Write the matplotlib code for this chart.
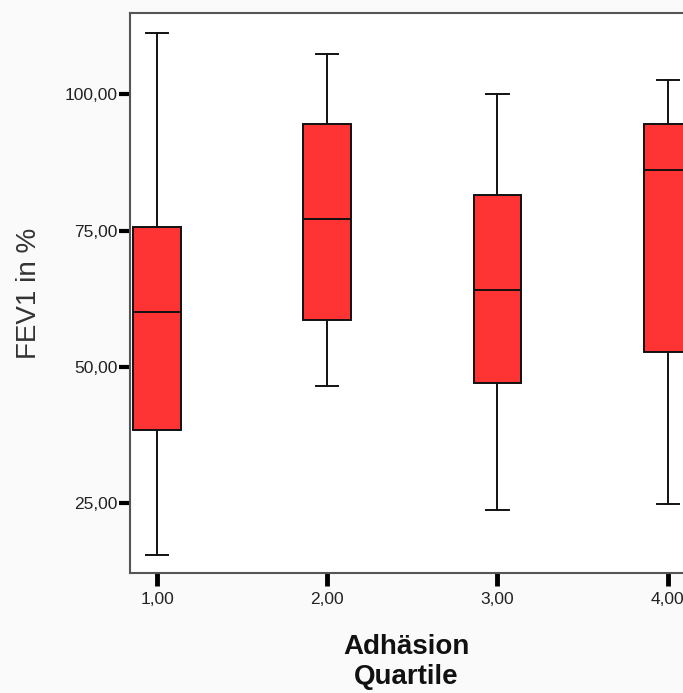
import matplotlib
matplotlib.use("Agg")
import matplotlib.pyplot as plt

# values (FEV1 in % per adhesion quartile)
groups = [1, 2, 3, 4]
tick_labels = ["1,00", "2,00", "3,00", "4,00"]
whisker_low = [15.6, 46.5, 23.8, 24.9]
q1 = [38.5, 58.6, 47.1, 52.8]
median = [60.0, 77.1, 64.1, 86.1]
q3 = [75.7, 94.5, 81.5, 94.6]
whisker_high = [111.1, 107.4, 100.0, 102.6]
y_ticks = [25, 50, 75, 100]
y_tick_labels = ["25,00", "50,00", "75,00", "100,00"]

plt.rcParams['font.family'] = ['Liberation Sans', 'DejaVu Sans']

fig = plt.figure(figsize=(6.83, 6.93), dpi=100, facecolor='#fafafa')
ax = fig.add_axes([0.190, 0.1736, 0.810, 0.8072])
ax.set_facecolor('white')

stats = []
for i in range(len(groups)):
    stats.append({
        'whislo': whisker_low[i], 'q1': q1[i], 'med': median[i],
        'q3': q3[i], 'whishi': whisker_high[i], 'fliers': [],
    })

ax.bxp(stats, positions=groups, widths=0.28, patch_artist=True,
       showfliers=False,
       boxprops=dict(facecolor='#fe3333', edgecolor='#111111', linewidth=1.4),
       medianprops=dict(color='#111111', linewidth=1.4),
       whiskerprops=dict(color='#111111', linewidth=1.4),
       capprops=dict(color='#111111', linewidth=1.4),
       capwidths=0.13)

ax.set_xlim(0.84, 4.09)
ax.set_ylim(12.3, 114.8)

ax.set_xticks(groups)
ax.set_xticklabels(tick_labels)
ax.set_yticks(y_ticks)
ax.set_yticklabels(y_tick_labels)

ax.tick_params(axis='x', direction='out', length=9, width=3.5, color='black',
               labelsize=12.5, pad=5, labelcolor='#222222')
ax.tick_params(axis='y', direction='out', length=8, width=3, color='black',
               labelsize=12.5, pad=1, labelcolor='#222222')

for side in ['left', 'bottom', 'top']:
    ax.spines[side].set_color('#555555')
    ax.spines[side].set_linewidth(1.5)
ax.spines['right'].set_visible(False)

ax.set_ylabel("FEV1 in %", fontsize=20, color='#333333', labelpad=16)
ax.set_xlabel("Adhäsion\nQuartile", fontsize=20, fontweight='bold',
              color='#111111', labelpad=19, linespacing=1.22)

fig.savefig("out.png", dpi=100, facecolor=fig.get_facecolor())
